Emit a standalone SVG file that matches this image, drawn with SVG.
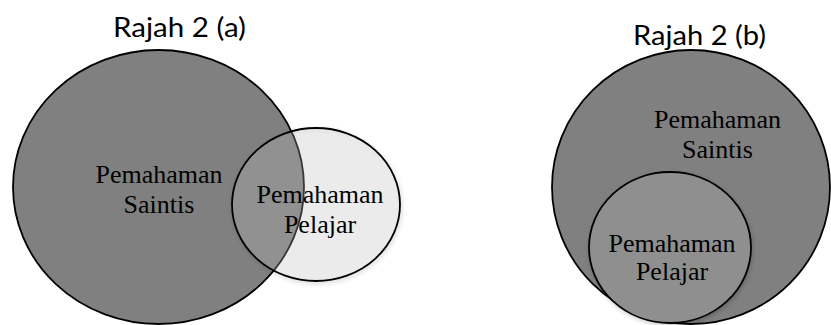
<svg xmlns="http://www.w3.org/2000/svg" width="831" height="325" viewBox="0 0 831 325">
<style>
.big{fill:#808080;stroke:#000;stroke-width:1.8}
.sa{fill:#c8c8c8;fill-opacity:0.25;stroke:#000;stroke-width:1.8}
.sb{fill:#8f8f8f;stroke:#000;stroke-width:1.8}
.lbl{font-family:"Liberation Serif","Times New Roman",serif;font-size:26px;fill:#000;text-anchor:middle}
.ttl{font-family:Lato,"Liberation Sans",sans-serif;font-size:27px;fill:#000}
</style>
<defs>
<filter id="sh" x="-10%" y="-10%" width="125%" height="130%">
<feDropShadow dx="1" dy="2" stdDeviation="2" flood-color="#000" flood-opacity="0.2"/>
</filter>
</defs>
<g id="title-a"><text class="ttl" x="113" y="37" textLength="133" lengthAdjust="spacingAndGlyphs">Rajah 2 (a)</text></g>
<g id="title-b"><text class="ttl" x="633" y="45" textLength="133" lengthAdjust="spacingAndGlyphs">Rajah 2 (b)</text></g>
<g id="saintis-a">
<ellipse class="big" cx="158.5" cy="187" rx="145.5" ry="137"/>
<text class="lbl" x="159" y="183">Pemahaman</text>
<text class="lbl" x="159" y="213">Saintis</text>
</g>
<g id="pelajar-a">
<ellipse class="sa" cx="316" cy="204.5" rx="84" ry="76.5" filter="url(#sh)"/>
<text class="lbl" x="320" y="203">Pemahaman</text>
<text class="lbl" x="320" y="233">Pelajar</text>
</g>
<g id="saintis-b">
<ellipse class="big" cx="691" cy="187" rx="139" ry="137"/>
<text class="lbl" x="717.5" y="128">Pemahaman</text>
<text class="lbl" x="717.5" y="158">Saintis</text>
</g>
<g id="pelajar-b">
<ellipse class="sb" cx="670" cy="247.5" rx="81" ry="75.5" filter="url(#sh)"/>
<text class="lbl" x="672" y="252">Pemahaman</text>
<text class="lbl" x="672" y="280">Pelajar</text>
</g>
<g id="connectors"/>
</svg>
